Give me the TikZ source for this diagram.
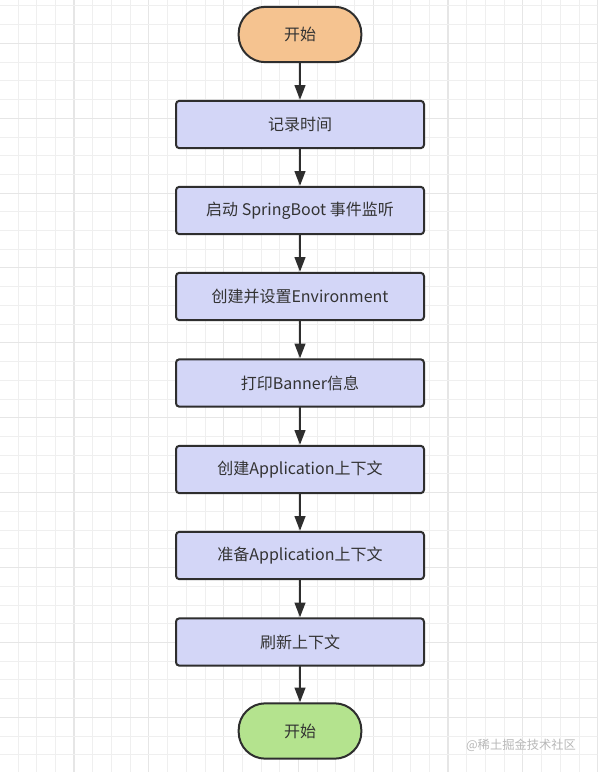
\documentclass[tikz,border=0pt]{standalone}
\usepackage{fontspec}
\setmainfont{Noto Sans CJK SC}
\usetikzlibrary{arrows.meta}
\definecolor{gridminor}{HTML}{EFEFEF}
\definecolor{gridmajor}{HTML}{E6E6E6}
\definecolor{edgegray}{HTML}{2E2E2E}
\definecolor{textgray}{HTML}{333333}
\definecolor{startfill}{HTML}{F5C390}
\definecolor{endfill}{HTML}{B4E38E}
\definecolor{stepfill}{HTML}{D3D6F7}
\tikzset{
  stepbox/.style={draw=edgegray,line width=1.5pt,fill=stepfill,rounded corners=2.5pt,
    minimum width=186pt,minimum height=35.5pt,inner sep=0pt,text=textgray,
    font=\fontsize{12}{14}\selectfont},
  terminal/.style={draw=edgegray,line width=1.5pt,rounded corners=20pt,
    minimum width=92pt,minimum height=41.5pt,inner sep=0pt,text=textgray,
    font=\fontsize{12}{14}\selectfont},
  flow/.style={draw=edgegray,line width=1.5pt,-{Triangle[length=11pt,width=8pt]}}
}
\begin{document}
\begin{tikzpicture}[x=0.75pt,y=-0.75pt,line cap=round,line join=round]
  \useasboundingbox (0,0) rectangle (597,772);
  \fill[white] (0,0) rectangle (597,772);
  % background grid
  \foreach \k in {-3,...,28} {
    \pgfmathsetmacro{\gx}{74+18.7*\k}
    \pgfmathtruncatemacro{\ismajor}{mod(\k+40,4)==0}
    \ifnum\ismajor=1
      \draw[gridmajor,line width=0.8pt] (\gx,0) -- (\gx,772);
    \else
      \draw[gridminor,line width=0.6pt] (\gx,0) -- (\gx,772);
    \fi
  }
  \foreach \k in {-2,...,39} {
    \pgfmathsetmacro{\gy}{43.3+18.72*\k}
    \pgfmathtruncatemacro{\ismajor}{mod(\k+40,4)==0}
    \ifnum\ismajor=1
      \draw[gridmajor,line width=0.8pt] (0,\gy) -- (597,\gy);
    \else
      \draw[gridminor,line width=0.6pt] (0,\gy) -- (597,\gy);
    \fi
  }
  % flow chart
  \node[terminal,fill=startfill] (start) at (300,34.5) {开始};
  \node[stepbox] (record) at (300,124.5) {记录时间};
  \node[stepbox] (listen) at (300,210.5) {启动 SpringBoot 事件监听};
  \node[stepbox] (env) at (300,296.5) {创建并设置Environment};
  \node[stepbox] (banner) at (300,383) {打印Banner信息};
  \node[stepbox] (create) at (300,469.5) {创建Application上下文};
  \node[stepbox] (prepare) at (300,555.5) {准备Application上下文};
  \node[stepbox] (refresh) at (300,642) {刷新上下文};
  \node[terminal,fill=endfill] (finish) at (300,731) {开始};
  \draw[flow] (start) -- (record);
  \draw[flow] (record) -- (listen);
  \draw[flow] (listen) -- (env);
  \draw[flow] (env) -- (banner);
  \draw[flow] (banner) -- (create);
  \draw[flow] (create) -- (prepare);
  \draw[flow] (prepare) -- (refresh);
  \draw[flow] (refresh) -- (finish);
  \node[text=black!28,font=\fontsize{9.2}{11}\selectfont] (mark) at (521,745) {@稀土掘金技术社区};
\end{tikzpicture}
\end{document}
